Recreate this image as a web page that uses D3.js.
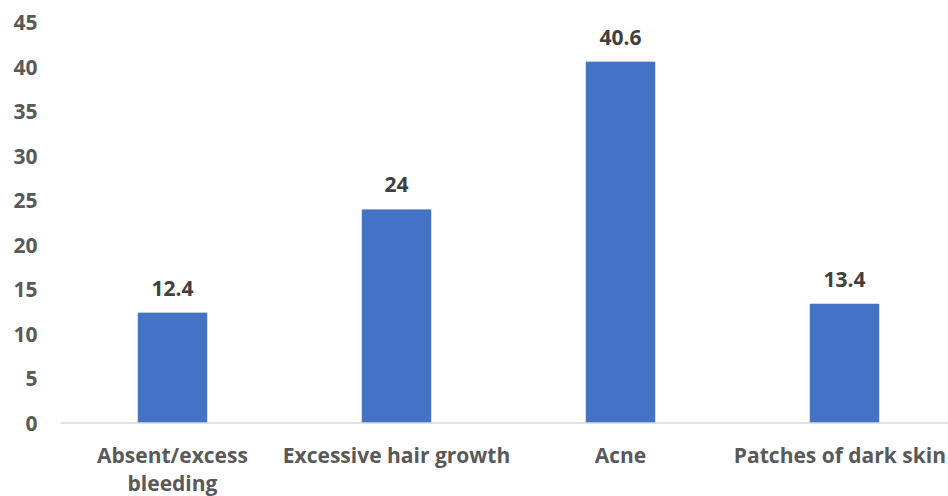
<!DOCTYPE html>
<html>
<head>
<meta charset="utf-8">
<script src="https://cdn.jsdelivr.net/npm/d3@7"></script>
<style>
  body { margin: 0; background: #fff; }
  svg { display: block; }
  .tick text, .cat-label, .val-label { font-family: "Open Sans", sans-serif; font-weight: bold; fill: #595959; }
  .val-label { fill: #404040; }
</style>
</head>
<body>
<svg width="948" height="496"></svg>
<script>
// chart data
const categories = ["Absent/excess\nbleeding", "Excessive hair growth", "Acne", "Patches of dark skin"];
const values = [12.4, 24, 40.6, 13.4];
const yTicks = [0, 5, 10, 15, 20, 25, 30, 35, 40, 45];

const svg = d3.select("svg");
const margin = {left: 60.5, top: 22.5, bottom: 73};
const plotRight = 956.5; // plot area runs past the right edge in the original
const width = 948, height = 496;
const fontSize = 21;

const x = d3.scaleBand()
    .domain(categories)
    .range([margin.left, plotRight])
    .paddingInner(0.69)
    .paddingOuter(0.345);

const y = d3.scaleLinear()
    .domain([0, 45])
    .range([height - margin.bottom, margin.top]);

// y axis labels, no line
const yAxis = svg.append("g")
    .attr("transform", `translate(${margin.left},0)`)
    .call(d3.axisLeft(y).tickValues(yTicks).tickSize(0).tickPadding(23));
yAxis.select(".domain").remove();
yAxis.selectAll("text").attr("font-size", fontSize).attr("dy", "0.35em");

// bars
svg.selectAll(".bar")
    .data(values)
    .enter().append("rect")
    .attr("class", "bar")
    .attr("x", (d, i) => x(categories[i]))
    .attr("y", d => y(d))
    .attr("width", x.bandwidth())
    .attr("height", d => y(0) - y(d))
    .attr("fill", "#4472C4");

// baseline
svg.append("line")
    .attr("x1", margin.left)
    .attr("x2", width)
    .attr("y1", y(0))
    .attr("y2", y(0))
    .attr("stroke", "#d9d9d9")
    .attr("stroke-width", 1.5);

// value labels
svg.selectAll(".val-label")
    .data(values)
    .enter().append("text")
    .attr("class", "val-label")
    .attr("x", (d, i) => x(categories[i]) + x.bandwidth() / 2)
    .attr("y", d => y(d) - 17)
    .attr("text-anchor", "middle")
    .attr("font-size", fontSize)
    .text(d => d);

// category labels
categories.forEach(c => {
    const t = svg.append("text")
        .attr("class", "cat-label")
        .attr("y", y(0) + 40)
        .attr("text-anchor", "middle")
        .attr("font-size", fontSize);
    c.split("\n").forEach((line, i) => {
        t.append("tspan")
            .attr("x", x(c) + x.bandwidth() / 2)
            .attr("dy", i === 0 ? 0 : 28)
            .text(line);
    });
    // keep the last label inside the window
    const box = t.node().getBBox();
    const over = box.x + box.width - (width - 2);
    if (over > 0) {
        t.selectAll("tspan").attr("x", x(c) + x.bandwidth() / 2 - over);
    }
});
</script>
</body>
</html>
